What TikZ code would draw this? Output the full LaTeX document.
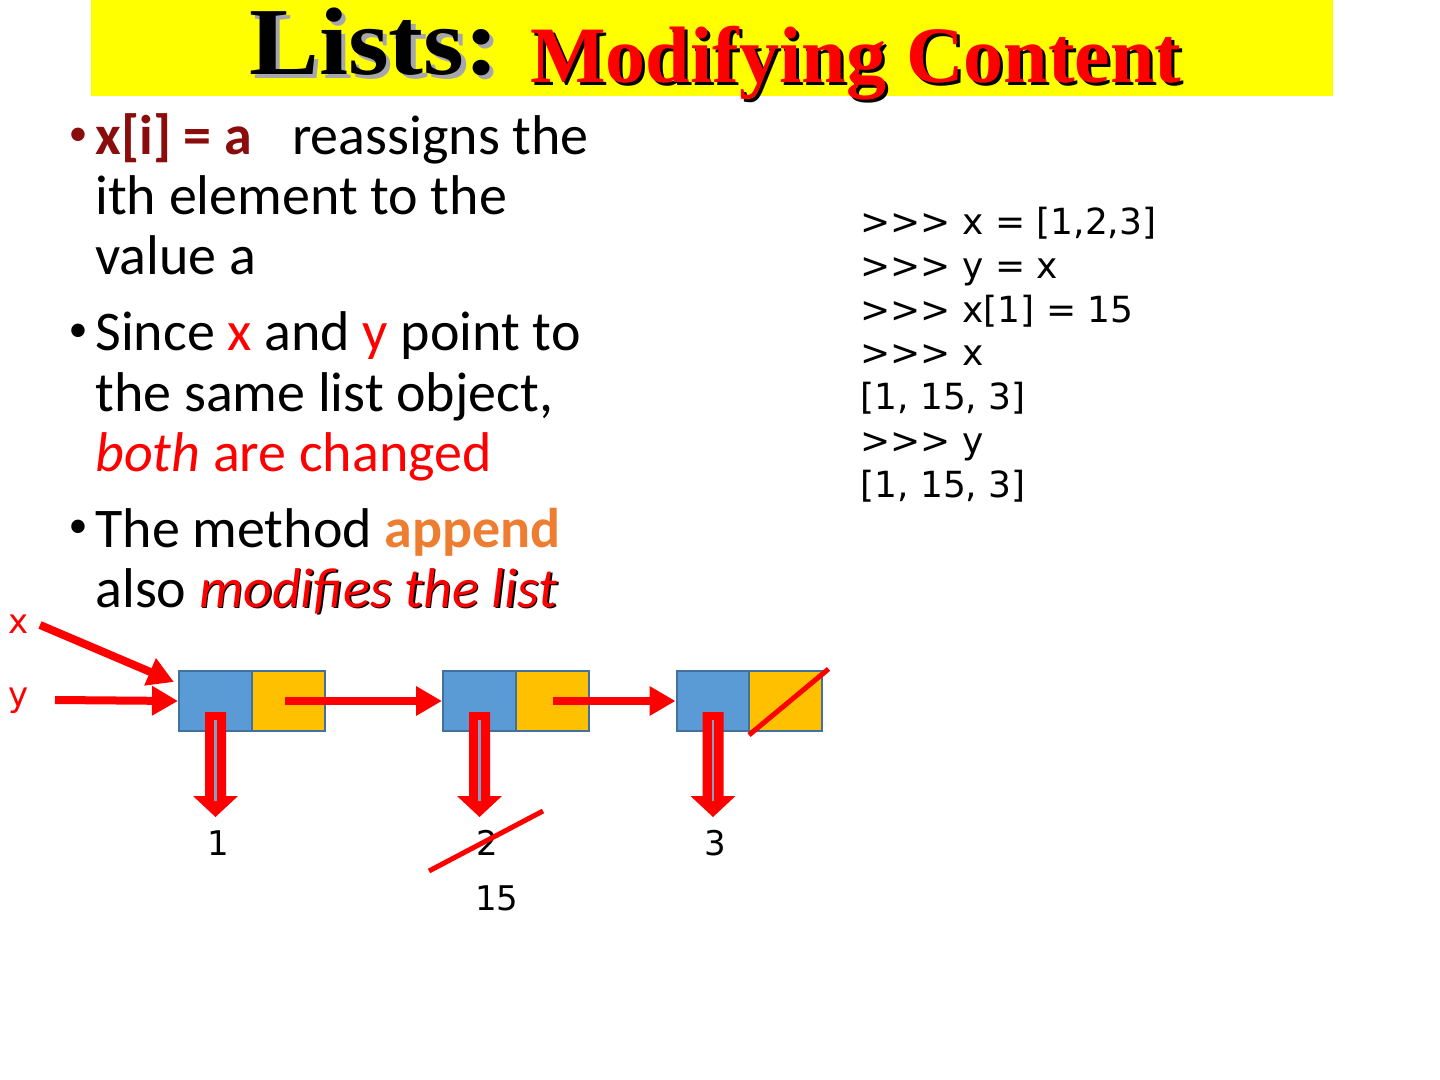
\documentclass[tikz,border=0pt]{standalone}
\usepackage{fontspec}
\setmainfont{Carlito}
\newfontfamily\djv{DejaVu Sans}
\newfontfamily\tnr{Liberation Serif}
\usetikzlibrary{arrows.meta,calc}
\definecolor{cellblue}{HTML}{5B9BD5}
\definecolor{cellgold}{HTML}{FFC000}
\definecolor{cellline}{HTML}{41719C}
\definecolor{darkred}{RGB}{139,12,12}
\definecolor{appendor}{HTML}{ED7D31}
\definecolor{slitc}{HTML}{8C9CC0}
\definecolor{titleyel}{HTML}{FFFF00}
\definecolor{shadowgray}{HTML}{A6A6B0}
\newcommand\shtext[4]{\leavevmode\rlap{\kern#4\raisebox{-#4}{\textcolor{#3}{#1}}}\textcolor{#2}{#1}}
\tikzset{
  body/.style={anchor=base west, inner sep=0, font=\fontsize{28}{30}\selectfont},
  bul/.style={anchor=center, inner sep=0, font=\fontsize{19}{20}\selectfont},
  codeline/.style={anchor=base west, inner sep=0, font=\djv\fontsize{18}{21}\selectfont},
  lbl/.style={anchor=base, inner sep=0, font=\djv\fontsize{17}{20}\selectfont},
  cellb/.style={draw=cellline, line width=1pt, fill=cellblue, minimum width=36.5pt, minimum height=30pt, inner sep=0},
  cellg/.style={draw=cellline, line width=1pt, fill=cellgold, minimum width=36.5pt, minimum height=30pt, inner sep=0},
  ptr/.style={draw=red, line width=4pt, -{Triangle[length=13pt,width=14pt]}},
  strike/.style={draw=red, line width=2.5pt},
  blockdown/.pic={
    \fill[red] (-10.5,11) -- (10.5,11) -- (10.5,95) -- (22.5,95) -- (0,116) -- (-22.5,95) -- (-10.5,95) -- cycle;
    \draw[slitc, line width=1.2pt] (0,19) -- (0,100);
  }
}
\begin{document}
\begin{tikzpicture}[x=0.5pt,y=-0.5pt]
\fill[white] (0,0) rectangle (1440,1080);
\useasboundingbox (0,0) rectangle (1440,1080);
% title
\node (titlebar) [fill=titleyel, minimum width=621pt, minimum height=48pt, inner sep=0] at (712,48) {};
\node (t1) [anchor=base west, inner sep=0, font=\tnr\bfseries\fontsize{48}{50}\selectfont] at (249,75) {\scalebox{1.09}[1]{\shtext{Lists:}{black}{shadowgray}{2pt}}};
\node (t2) [anchor=base west, inner sep=0, font=\tnr\bfseries\fontsize{40}{44}\selectfont] at (530,83) {\shtext{Modifying Content}{red}{black}{1.5pt}};
% bullets
\node (bu1) [bul, text=darkred] at (78,137) {•};
\node (l1) [body] at (95,155) {{\bfseries\color{darkred}x[i] = a}\hspace{20pt}reassigns the};
\node (l2) [body] at (95,215) {ith element to the};
\node (l3) [body] at (95,275) {value a};
\node (bu2) [bul] at (78,333) {•};
\node (l4) [body] at (95,351) {Since \textcolor{red}{x} and \textcolor{red}{y} point to};
\node (l5) [body] at (95,412) {the same list object,};
\node (l6) [body, text=red] at (95,472) {\textit{both} are changed};
\node (bu3) [bul] at (78,529) {•};
\node (l7) [body] at (95,547) {The method \textcolor{appendor}{\bfseries append}};
\node (l8) [body] at (95,607) {also \shtext{\itshape modifies the list}{red}{black}{0.8pt}};
% code
\node (c1) [codeline] at (860,235) {>>> x = [1,2,3]};
\node (c2) [codeline] at (860,278.7) {>>> y = x};
\node (c3) [codeline] at (860,322.3) {>>> x[1] = 15};
\node (c4) [codeline] at (860,366) {>>> x};
\node (c5) [codeline] at (860,409.7) {[1, 15, 3]};
\node (c6) [codeline] at (860,453.3) {>>> y};
\node (c7) [codeline] at (860,497) {[1, 15, 3]};
% list cells
\node (b1) [cellb] at (215.5,701) {};
\node (g1) [cellg] at (288.5,701) {};
\node (b2) [cellb] at (479.5,701) {};
\node (g2) [cellg] at (552.5,701) {};
\node (b3) [cellb] at (713,701) {};
\node (g3) [cellg] at (785.5,701) {};
% variable labels
\node (vx) [lbl, text=red] at (19,633) {x};
\node (vy) [lbl, text=red] at (19,706) {y};
\coordinate (xs) at (40,625);
\coordinate (ys) at (55,700);
\draw[ptr] (xs) -- ([xshift=-2pt,yshift=9.5pt]b1.west);
\draw[ptr] (ys) -- (b1.west);
\draw[ptr] ([xshift=-2pt]g1.center) -- (b2.west);
\draw[ptr] (g2.center) -- (b3.west);
% value arrows
\pic (d1) at (b1.center) {blockdown};
\pic (d2) at (b2.center) {blockdown};
\pic (d3) at (b3.center) {blockdown};
% values
\node (n1) [lbl] at (218,855) {1};
\node (n2) [lbl] at (487,855) {2};
\node (n3) [lbl] at (715,855) {3};
\node (n15) [lbl] at (497,910) {15};
\draw[strike] ($(n2.base)+(-58,16)$) -- ($(n2.base)+(56,-44)$);
\draw[strike] ($(g3.south west)+(1,3)$) -- ($(g3.north east)+(5.5,-1)$);
\end{tikzpicture}
\end{document}
